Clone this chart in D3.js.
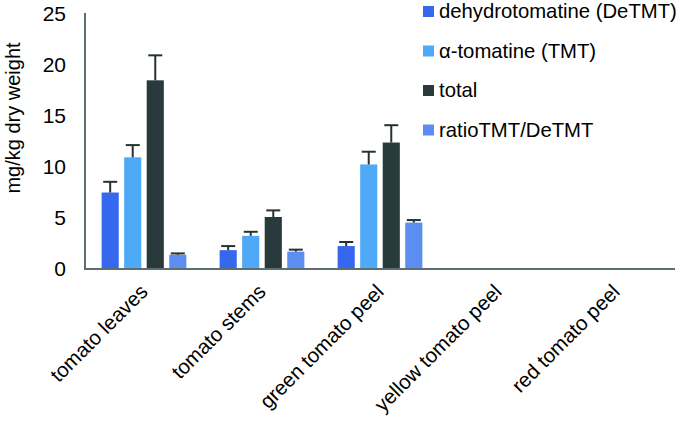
<!DOCTYPE html>
<html><head><meta charset="utf-8">
<script src="https://cdn.jsdelivr.net/npm/d3@7"></script>
<style>body{margin:0;background:#fff}svg{display:block}text{font-family:"Liberation Sans",Arial,sans-serif;fill:#000}</style>
</head><body><svg id="c" width="685" height="421"></svg>
<script>
const categories = ["tomato leaves","tomato stems","green tomato peel","yellow tomato peel","red tomato peel"];
const seriesNames = ["dehydrotomatine (DeTMT)","α-tomatine (TMT)","total","ratioTMT/DeTMT"];
const detmt = [7.4, 1.75, 2.15, null, null];
const detmtErr = [1.05, 0.4, 0.4, null, null];
const tmt = [10.85, 3.15, 10.15, null, null];
const tmtErr = [1.2, 0.4, 1.25, null, null];
const total = [18.4, 5.0, 12.3, null, null];
const totalErr = [2.45, 0.65, 1.7, null, null];
const ratio = [1.3, 1.6, 4.45, null, null];
const ratioErr = [0.13, 0.2, 0.25, null, null];
const yTicks = [0,5,10,15,20,25];
const colors = ["#3568ec","#4ea9f7","#293a3c","#5b8ef0"];

const values = [detmt, tmt, total, ratio];
const errs = [detmtErr, tmtErr, totalErr, ratioErr];
const svg = d3.select("#c");
const x0 = d3.scaleBand().domain(categories).range([85,675]).paddingInner(0).paddingOuter(0);
const x1 = d3.scaleBand().domain(d3.range(4)).range([0,87]).paddingInner(0.24).paddingOuter(0.05);
const xoff = (x0.bandwidth()-87)/2;
const y = d3.scaleLinear().domain([0,25]).range([268,13]);

// bars
categories.forEach((c,i)=>{
  const g = svg.append("g").attr("transform",`translate(${x0(c)+xoff},0)`);
  values.forEach((s,k)=>{
    const v = s[i]; if(v==null) return;
    const bx = x1(k), bw = x1.bandwidth();
    g.append("rect").attr("x",bx).attr("y",y(v)).attr("width",bw).attr("height",y(0)-y(v)).attr("fill",colors[k]);
    const e = errs[k][i];
    const cx = bx+bw/2;
    g.append("line").attr("x1",cx).attr("x2",cx).attr("y1",y(v)).attr("y2",y(v+e)).attr("stroke","#25322f").attr("stroke-width",2);
    g.append("line").attr("x1",cx-7).attr("x2",cx+7).attr("y1",y(v+e)).attr("y2",y(v+e)).attr("stroke","#25322f").attr("stroke-width",2);
  });
});

// axes
svg.append("line").attr("x1",85).attr("x2",85).attr("y1",13).attr("y2",269).attr("stroke","#5c6e6e").attr("stroke-width",2);
svg.append("line").attr("x1",84).attr("x2",675).attr("y1",269).attr("y2",269).attr("stroke","#5c6e6e").attr("stroke-width",2.2);
svg.selectAll(".yt").data(yTicks).join("text").attr("x",66).attr("y",d=>y(d)).attr("dy","0.36em")
  .attr("text-anchor","end").attr("font-size",21).text(d=>d);
svg.append("text").attr("transform","translate(20,118) rotate(-90)").attr("text-anchor","middle")
  .attr("font-size",20).text("mg/kg dry weight");
svg.selectAll(".xt").data(categories).join("text")
  .attr("transform",d=>`translate(${x0(d)+x0.bandwidth()/2+5},${293}) rotate(-45)`)
  .attr("text-anchor","end").attr("font-size",20.5).text(d=>d);

// legend
const lg = svg.append("g");
seriesNames.forEach((n,k)=>{
  const cy = 11 + k*39.5;
  lg.append("rect").attr("x",423).attr("y",cy-5).attr("width",11).attr("height",11).attr("fill",colors[k]);
  lg.append("text").attr("x",439).attr("y",cy).attr("dy","0.36em").attr("font-size",20.3).text(n);
});
</script></body></html>
